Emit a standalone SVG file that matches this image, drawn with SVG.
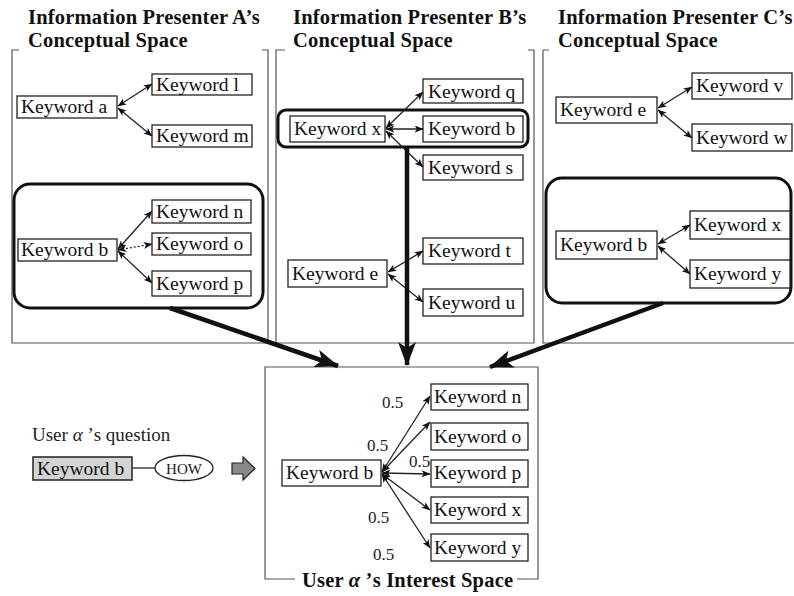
<svg xmlns="http://www.w3.org/2000/svg" width="794" height="596" viewBox="0 0 794 596">
  <style>
    .bg { fill: #ffffff; }
    .panel { fill: none; stroke: #555; stroke-width: 1.2; }
    .title { font-family: "Liberation Serif", "Times New Roman", serif; font-size: 20.5px; font-weight: bold; fill: #111; letter-spacing: 0.2px; }
    .kw rect { fill: #ffffff; stroke: #222; stroke-width: 1.3; }
    .kw text { font-family: "Liberation Serif", "Times New Roman", serif; font-size: 19.5px; fill: #111; }
    .group { fill: none; stroke: #111; stroke-width: 3; }
    .link { fill: none; stroke: #222; stroke-width: 1.3; marker-start: url(#tip); marker-end: url(#tip); }
    .dotted { stroke-dasharray: 2 2; }
    .flow { fill: none; stroke: #111; stroke-width: 4.5; marker-end: url(#bigtip); }
    .w { font-family: "Liberation Serif", "Times New Roman", serif; font-size: 17px; fill: #222; }
    .label { font-family: "Liberation Serif", "Times New Roman", serif; font-size: 19px; fill: #222; }
    .alpha { font-style: italic; }
  </style>
  <defs>
    <marker id="tip" viewBox="0 0 10 8" refX="9.5" refY="4" markerWidth="9" markerHeight="7" markerUnits="userSpaceOnUse" orient="auto-start-reverse">
      <path d="M0,0 L10,4 L0,8 L2.5,4 Z" fill="#111"/>
    </marker>
    <marker id="bigtip" viewBox="0 0 24 18" refX="23" refY="9" markerWidth="24" markerHeight="18" markerUnits="userSpaceOnUse" orient="auto">
      <path d="M0,0 L24,9 L0,18 L6,9 Z" fill="#111"/>
    </marker>
  </defs>

  <rect class="bg" x="0" y="0" width="794" height="596"/>

  <!-- presenter panels: frames open at the top behind the titles -->
  <g id="panel-a">
    <path class="panel" d="M19,50 H12 V343 H268 V50 H262"/>
    <text class="title" x="28" y="24">Information Presenter A’s</text>
    <text class="title" x="28" y="47">Conceptual Space</text>
  </g>
  <g id="panel-b">
    <path class="panel" d="M285,50 H276 V343 H534 V50 H528"/>
    <text class="title" x="293" y="24">Information Presenter B’s</text>
    <text class="title" x="293" y="47">Conceptual Space</text>
  </g>
  <g id="panel-c">
    <path class="panel" d="M549,50 H543 V343 H794"/>
    <text class="title" x="558" y="24">Information Presenter C’s</text>
    <text class="title" x="558" y="47">Conceptual Space</text>
  </g>

  <!-- highlighted groups -->
  <rect id="group-a" class="group" x="14" y="184" width="249" height="124" rx="16"/>
  <rect id="group-b" class="group" x="278" y="110" width="250" height="37" rx="8"/>
  <rect id="group-c" class="group" x="546" y="178" width="245" height="125" rx="16"/>

  <!-- interest space frame, open at the bottom for its caption -->
  <g id="interest-space">
    <path class="panel" d="M295,579 H265 V367 H538 V579 H517"/>
    <text class="title" x="302" y="587">User <tspan class="alpha">α</tspan> ’s Interest Space</text>
  </g>

  <!-- panel A keywords -->
  <g id="a-kw-a" class="kw"><rect x="17" y="96" width="100" height="22"/><text x="21" y="113">Keyword a</text></g>
  <g id="a-kw-l" class="kw"><rect x="152" y="74" width="100" height="21"/><text x="156" y="91">Keyword l</text></g>
  <g id="a-kw-m" class="kw"><rect x="152" y="125" width="100" height="22"/><text x="156" y="142">Keyword m</text></g>
  <g id="a-kw-b" class="kw"><rect x="18" y="239" width="99" height="22"/><text x="21" y="256">Keyword b</text></g>
  <g id="a-kw-n" class="kw"><rect x="152" y="200" width="99" height="23"/><text x="156" y="218">Keyword n</text></g>
  <g id="a-kw-o" class="kw"><rect x="152" y="233" width="99" height="22"/><text x="156" y="250">Keyword o</text></g>
  <g id="a-kw-p" class="kw"><rect x="152" y="271" width="99" height="25"/><text x="156" y="290">Keyword p</text></g>

  <!-- panel B keywords -->
  <g id="b-kw-q" class="kw"><rect x="423" y="79" width="100" height="24"/><text x="428" y="98">Keyword q</text></g>
  <g id="b-kw-x" class="kw"><rect x="290" y="116" width="95" height="26"/><text x="294" y="135">Keyword x</text></g>
  <g id="b-kw-b" class="kw"><rect x="423" y="116" width="100" height="26"/><text x="428" y="135">Keyword b</text></g>
  <g id="b-kw-s" class="kw"><rect x="423" y="155" width="100" height="25"/><text x="428" y="174">Keyword s</text></g>
  <g id="b-kw-t" class="kw"><rect x="423" y="238" width="100" height="26"/><text x="428" y="257">Keyword t</text></g>
  <g id="b-kw-e" class="kw"><rect x="288" y="260" width="99" height="27"/><text x="292" y="280">Keyword e</text></g>
  <g id="b-kw-u" class="kw"><rect x="423" y="289" width="100" height="27"/><text x="428" y="309">Keyword u</text></g>

  <!-- panel C keywords -->
  <g id="c-kw-e" class="kw"><rect x="556" y="97" width="101" height="26"/><text x="560" y="116">Keyword e</text></g>
  <g id="c-kw-v" class="kw"><rect x="692" y="73" width="100" height="26"/><text x="696" y="92">Keyword v</text></g>
  <g id="c-kw-w" class="kw"><rect x="692" y="124" width="100" height="27"/><text x="696" y="144">Keyword w</text></g>
  <g id="c-kw-b" class="kw"><rect x="556" y="231" width="101" height="28"/><text x="560" y="251">Keyword b</text></g>
  <g id="c-kw-x" class="kw"><rect x="690" y="211" width="100" height="28"/><text x="694" y="231">Keyword x</text></g>
  <g id="c-kw-y" class="kw"><rect x="690" y="260" width="100" height="28"/><text x="694" y="280">Keyword y</text></g>

  <!-- interest space keywords -->
  <g id="i-kw-b" class="kw"><rect x="282" y="460" width="99" height="26"/><text x="286" y="479">Keyword b</text></g>
  <g id="i-kw-n" class="kw"><rect x="431" y="384" width="97" height="26"/><text x="434" y="403">Keyword n</text></g>
  <g id="i-kw-o" class="kw"><rect x="431" y="423" width="97" height="27"/><text x="434" y="443">Keyword o</text></g>
  <g id="i-kw-p" class="kw"><rect x="431" y="460" width="97" height="27"/><text x="434" y="479">Keyword p</text></g>
  <g id="i-kw-x" class="kw"><rect x="431" y="497" width="97" height="26"/><text x="434" y="516">Keyword x</text></g>
  <g id="i-kw-y" class="kw"><rect x="431" y="534" width="97" height="27"/><text x="434" y="554">Keyword y</text></g>

  <!-- user question -->
  <g id="question">
    <text class="label" x="32" y="441">User <tspan class="alpha">α</tspan> ’s question</text>
    <rect x="33" y="457" width="99" height="23" fill="#d4d4d4" stroke="#222" stroke-width="1.5"/>
    <text x="37" y="475" font-family="Liberation Serif, serif" font-size="19.5" fill="#111">Keyword b</text>
    <line x1="132" y1="468" x2="155" y2="468" stroke="#222" stroke-width="1.3"/>
    <ellipse cx="184" cy="468" rx="29" ry="12.5" fill="#ffffff" stroke="#222" stroke-width="1.3"/>
    <text x="184" y="474" text-anchor="middle" font-family="Liberation Serif, serif" font-size="15" fill="#222">HOW</text>
    <path d="M232,463 H243 V457 L255,468.5 L243,480 V474 H232 Z" fill="#8a8a8a" stroke="#222" stroke-width="1.2"/>
  </g>

  <!-- connectors -->
  <g id="connectors">
    <line class="link" x1="118" y1="106" x2="152" y2="84"/>
    <line class="link" x1="118" y1="108" x2="152" y2="136"/>
    <line class="link" x1="118" y1="249" x2="152" y2="211"/>
    <line class="link dotted" x1="118" y1="250" x2="152" y2="244"/>
    <line class="link" x1="118" y1="251" x2="152" y2="283"/>

    <line class="link" x1="386" y1="128" x2="423" y2="92"/>
    <line class="link" x1="386" y1="129" x2="423" y2="129"/>
    <line class="link" x1="386" y1="131" x2="423" y2="167"/>
    <line class="link" x1="388" y1="272" x2="423" y2="251"/>
    <line class="link" x1="388" y1="274" x2="423" y2="302"/>

    <line class="link" x1="658" y1="108" x2="692" y2="87"/>
    <line class="link" x1="658" y1="110" x2="692" y2="138"/>
    <line class="link" x1="658" y1="244" x2="690" y2="225"/>
    <line class="link" x1="658" y1="246" x2="690" y2="274"/>

    <line class="link" x1="382" y1="472" x2="430" y2="396"/>
    <line class="link" x1="382" y1="472" x2="430" y2="422"/>
    <line class="link" x1="382" y1="473" x2="430" y2="474"/>
    <line class="link" x1="382" y1="474" x2="430" y2="510"/>
    <line class="link" x1="382" y1="474" x2="430" y2="548"/>

    <line class="flow" x1="170" y1="308" x2="338" y2="366"/>
    <line class="flow" x1="407" y1="147" x2="407" y2="365"/>
    <line class="flow" x1="663" y1="303" x2="490" y2="367"/>
  </g>

  <!-- connection weights -->
  <g id="weights">
    <text class="w" x="382" y="408">0.5</text>
    <text class="w" x="367" y="451">0.5</text>
    <text class="w" x="409" y="467">0.5</text>
    <text class="w" x="368" y="523">0.5</text>
    <text class="w" x="373" y="560">0.5</text>
  </g>
</svg>
